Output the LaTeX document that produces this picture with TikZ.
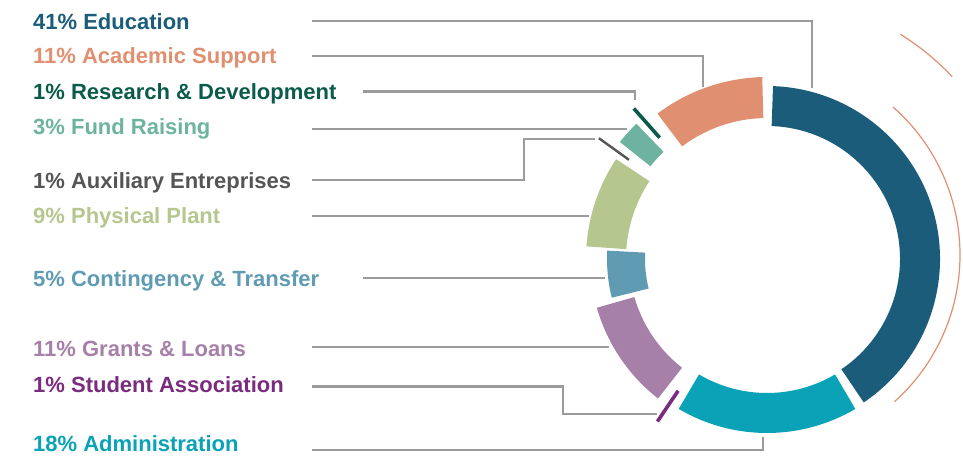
\documentclass[tikz,border=0pt]{standalone}
\usepackage{fontspec}
\setmainfont{Liberation Sans}
\usepackage{tikz}
\usetikzlibrary{arrows}
\definecolor{edu}{HTML}{1A5C7A}
\definecolor{acad}{HTML}{E09070}
\definecolor{resdev}{HTML}{0B5B4B}
\definecolor{fund}{HTML}{6DB3A0}
\definecolor{aux}{HTML}{555555}
\definecolor{plant}{HTML}{B5C78E}
\definecolor{cont}{HTML}{5F9BB2}
\definecolor{grant}{HTML}{A680A8}
\definecolor{stud}{HTML}{7A2C7E}
\definecolor{admin}{HTML}{0AA2B6}
\definecolor{leadgray}{HTML}{9B9B9B}

\begin{document}
\begin{tikzpicture}[x=1pt,y=1pt,line join=miter,
  label/.style={anchor=base west,inner sep=0pt,font=\fontsize{22}{24}\selectfont\bfseries},
  leader/.style={color=leadgray,line width=2.2pt},
  tick/.style={line width=3.6pt}]
\useasboundingbox (0,0) rectangle (963,456);

% the ring
\coordinate (C) at (767,197);
\begin{scope}[shift={(C)}]
\foreach \a/\b/\ri/\ro/\c in {88/-56/133/173/edu, -59.5/-120.5/134/174/admin,
  -128/-164/138/177/grant, -166/-183/122/160/cont, 176/146.5/141/181/plant,
  141.5/134/149/188/fund, 127/91.5/141/182/acad}
  \fill[\c] (\a:\ri) arc[start angle=\a, end angle=\b, radius=\ri pt]
    -- (\b:\ro) arc[start angle=\b, end angle=\a, radius=\ro pt] -- cycle;
\draw[tick,stud] (-124:159) -- (-124:196);
\draw[tick,resdev] (131.5:162) -- (131.5:201);
\draw[aux,line width=2.4pt] (144.3:170) -- (144.3:207);
\end{scope}

% orange arcs on the right
\draw[acad,line width=1.2pt] (763,201) ++(48.7:197) arc[start angle=48.7, end angle=-48.1, radius=197pt];
\draw[acad,line width=1.2pt] (763,201) ++(58.1:260) arc[start angle=58.1, end angle=43.3, radius=260pt];

% labels
\node[label,text=edu] (t-edu) at (33,426) {41\% Education};
\node[label,text=acad] (t-acad) at (33,392.7) {11\% Academic Support};
\node[label,text=resdev] (t-resdev) at (33,356) {1\% Research \& Development};
\node[label,text=fund] (t-fund) at (33,321) {3\% Fund Raising};
\node[label,text=aux] (t-aux) at (33,268) {1\% Auxiliary Entreprises};
\node[label,text=plant] (t-plant) at (33,233) {9\% Physical Plant};
\node[label,text=cont] (t-cont) at (33,169.3) {5\% Contingency \& Transfer};
\node[label,text=grant] (t-grant) at (33,100) {11\% Grants \& Loans};
\node[label,text=stud] (t-stud) at (33,63.3) {1\% Student Association};
\node[label,text=admin] (t-admin) at (33,4.8) {18\% Administration};

% leader lines
\coordinate (l-edu) at (312,435);   \coordinate (e-edu) at (812,368);
\coordinate (l-acad) at (312,400);  \coordinate (e-acad) at (703,369);
\coordinate (l-resdev) at (363,364.5); \coordinate (e-resdev) at (635,356);
\coordinate (l-fund) at (312,327);  \coordinate (e-fund) at (627,327);
\coordinate (l-aux) at (312,276);   \coordinate (k-aux) at (524,317); \coordinate (e-aux) at (595,317);
\coordinate (l-plant) at (312,240); \coordinate (e-plant) at (589,240);
\coordinate (l-cont) at (363,178);  \coordinate (e-cont) at (605,178);
\coordinate (l-grant) at (312,109); \coordinate (e-grant) at (609,109);
\coordinate (l-stud) at (312,69.5); \coordinate (k-stud) at (563,42); \coordinate (e-stud) at (657,42);
\coordinate (l-admin) at (312,6);   \coordinate (e-admin) at (763,19);

\draw[leader] (l-edu) -| (e-edu);
\draw[leader] (l-acad) -| (e-acad);
\draw[leader] (l-resdev) -| (e-resdev);
\draw[leader] (l-fund) -- (e-fund);
\draw[leader] (l-aux) -| (k-aux) -- (e-aux);
\draw[leader] (l-plant) -- (e-plant);
\draw[leader] (l-cont) -- (e-cont);
\draw[leader] (l-grant) -- (e-grant);
\draw[leader] (l-stud) -| (k-stud) -- (e-stud);
\draw[leader] (l-admin) -| (e-admin);

\end{tikzpicture}
\end{document}
